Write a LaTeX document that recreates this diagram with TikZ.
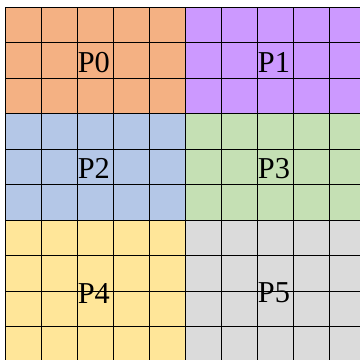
\documentclass[tikz,border=0pt]{standalone}
\usepackage{fontspec}
\setmainfont{Liberation Serif}

\definecolor{zoneA}{HTML}{F4B183}
\definecolor{zoneB}{HTML}{CC99FF}
\definecolor{zoneC}{HTML}{B4C7E7}
\definecolor{zoneD}{HTML}{C5E0B4}
\definecolor{zoneE}{HTML}{FFE699}
\definecolor{zoneF}{HTML}{DBDBDB}

\begin{document}
\begin{tikzpicture}[x=1cm,y=0.986cm,
  gridline/.style={line width=0.7pt},
  plabel/.style={font=\fontsize{24}{28}\selectfont, inner sep=0pt}]

\useasboundingbox (-0.158,0.065) rectangle (9.814,10.206);

% Zones
\fill[zoneA] (0,7) rectangle (5,10);
\fill[zoneB] (5,7) rectangle (10,10);
\fill[zoneC] (0,4) rectangle (5,7);
\fill[zoneD] (5,4) rectangle (10,7);
\fill[zoneE] (0,0) rectangle (5,4);
\fill[zoneF] (5,0) rectangle (10,4);

% Grille
\foreach \x in {0,...,10}
{
\draw[gridline] (\x,0) -- (\x,10);
}
\foreach \y in {0,...,10}
{
\draw[gridline] (0,\y) -- (10,\y);
}

% Noms
\node[plabel] (p0) at (2.45,8.45) {P0};
\node[plabel] (p1) at (7.45,8.45) {P1};
\node[plabel] (p2) at (2.45,5.45) {P2};
\node[plabel] (p3) at (7.45,5.45) {P3};
\node[plabel] (p4) at (2.45,1.95) {P4};
\node[plabel] (p5) at (7.45,1.95) {P5};

\end{tikzpicture}
\end{document}
